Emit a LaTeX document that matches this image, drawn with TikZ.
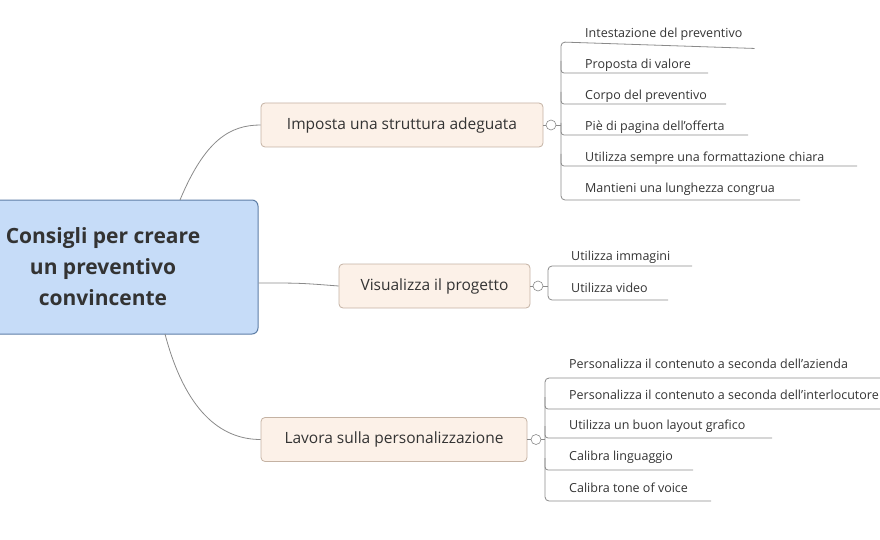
\documentclass[tikz,border=0pt]{standalone}
\usepackage{fontspec}
\setmainfont{Open Sans}
\usetikzlibrary{positioning}
\definecolor{rootfill}{HTML}{C6DCF8}
\definecolor{rootdraw}{HTML}{5E7EA6}
\definecolor{subfill}{HTML}{FCF1E8}
\definecolor{subdraw}{HTML}{C4B2A3}
\definecolor{txt}{HTML}{333333}
\definecolor{wire}{HTML}{8A8A8A}
\tikzset{
  rootbox/.style={draw=rootdraw, fill=rootfill, line width=1pt, rounded corners=6pt, minimum width=310pt, minimum height=134pt, align=center, font=\fontsize{21}{31}\selectfont\bfseries, text=txt},
  subbox/.style={draw=subdraw, fill=subfill, line width=0.8pt, rounded corners=4pt, minimum height=44pt, inner xsep=0pt, font=\fontsize{15.5}{18}\selectfont, text=txt},
  leaf/.style={anchor=west, inner sep=0pt, font=\fontsize{12.5}{15}\selectfont, text=txt},
  knob/.style={circle, draw=wire, fill=white, minimum size=10pt, inner sep=0pt, line width=0.6pt},
  wire/.style={draw=wire, line width=0.8pt},
}
\begin{document}
\begin{tikzpicture}[x=1pt, y=-1pt]
\useasboundingbox (0,0) rectangle (880,540);
\clip (0,0) rectangle (880,540);
\node (root) [rootbox] at (103,267) {Consigli per creare\\un preventivo\\convincente};
\node (struttura) [subbox, minimum width=282pt] at (402,125) {Imposta una struttura adeguata};
\node (progetto) [subbox, minimum width=191pt] at (434.5,286) {Visualizza il progetto};
\node (person) [subbox, minimum width=266pt] at (394,439.5) {Lavora sulla personalizzazione};
\draw [wire] (180,200) .. controls (205,140) and (230,125) .. (struttura.west);
\draw [wire] (root.east |- 0,283) .. controls (300,283) .. (progetto.west);
\draw [wire] (165,334) .. controls (185,410) and (220,439.5) .. (person.west);
\node (k1) [knob] at (551,125) {};
\node (k2) [knob] at (538,286) {};
\node (k3) [knob] at (536,439.5) {};
\draw [wire] (struttura.east) -- (k1);
\draw [wire] (progetto.east) -- (k2);
\draw [wire] (person.east) -- (k3);
% leaves of the first branch
\node (a1) [leaf] at (585,34) {Intestazione del preventivo};
\node (a2) [leaf] at (585,65) {Proposta di valore};
\node (a3) [leaf] at (585,96) {Corpo del preventivo};
\node (a4) [leaf] at (585,127) {Piè di pagina dell'offerta};
\node (a5) [leaf] at (585,158) {Utilizza sempre una formattazione chiara};
\node (a6) [leaf] at (585,189) {Mantieni una lunghezza congrua};
\coordinate (b1) at (561,125);
\draw [wire] (k1) -- (b1);
\draw [wire, rounded corners=4pt] (a1.south east) ++(12,8) -- (561,42) -- (561,200) -- (800,200);
\foreach \n/\y/\e in {a2/73/708, a3/104/726, a4/135/748, a5/166/857}
  \draw [wire, rounded corners=3pt] (561,\y-12) -- (561,\y) -- (\e,\y);
% leaves of the second branch
\node (c1) [leaf] at (571,257) {Utilizza immagini};
\node (c2) [leaf] at (571,288) {Utilizza video};
\coordinate (b2) at (548,286);
\draw [wire] (k2) -- (b2);
\draw [wire, rounded corners=4pt] (692,266) -- (548,266) -- (548,300) -- (668,300);
% leaves of the third branch
\node (d1) [leaf] at (569,364) {Personalizza il contenuto a seconda dell'azienda};
\node (d2) [leaf] at (569,395) {Personalizza il contenuto a seconda dell'interlocutore};
\node (d3) [leaf] at (569,426) {Utilizza un buon layout grafico};
\node (d4) [leaf] at (569,457) {Calibra linguaggio};
\node (d5) [leaf] at (569,488) {Calibra tone of voice};
\coordinate (b3) at (545,439.5);
\draw [wire] (k3) -- (b3);
\draw [wire, rounded corners=4pt] (880,378) -- (545,378) -- (545,501) -- (711,501);
\foreach \y/\e in {409/880, 438/772, 470/693}
  \draw [wire, rounded corners=3pt] (545,\y-12) -- (545,\y) -- (\e,\y);
\end{tikzpicture}
\end{document}
